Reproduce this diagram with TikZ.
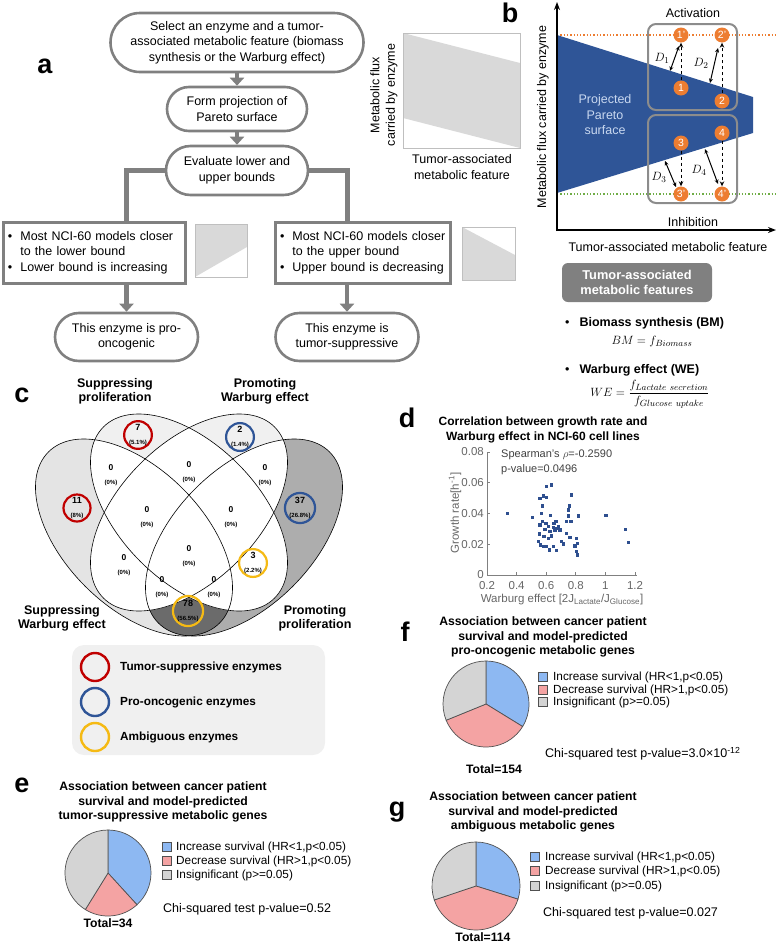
\documentclass[tikz,border=0pt]{standalone}
\usepackage{fontspec}
\setmainfont{Liberation Sans}
\setsansfont{Liberation Sans}
\usetikzlibrary{arrows.meta,shapes.misc}
\definecolor{agray}{HTML}{808080}
\definecolor{lgray}{HTML}{BFBFBF}
\definecolor{sgray}{HTML}{D9D9D9}
\definecolor{pblue}{HTML}{2F5597}
\definecolor{ptext}{HTML}{C9D8F0}
\definecolor{porange}{HTML}{ED7D31}
\definecolor{pgreen}{HTML}{70AD47}
\definecolor{boxgray}{HTML}{8C8C8C}
\definecolor{vred}{HTML}{C00000}
\definecolor{vblue}{HTML}{2F5597}
\definecolor{vyellow}{HTML}{F5BA14}
\definecolor{vA}{HTML}{F0F0F0}
\definecolor{vC}{HTML}{E4E4E4}
\definecolor{vD}{HTML}{ADADAD}
\definecolor{vCD}{HTML}{6B6B6B}
\definecolor{legbg}{HTML}{F0F0F0}
\definecolor{scat}{HTML}{2E4F8F}
\definecolor{axgray}{HTML}{808080}
\definecolor{pieblue}{HTML}{8DB8F2}
\definecolor{piepink}{HTML}{F4A3A3}
\definecolor{piegray}{HTML}{D4D4D4}
\definecolor{piedk}{HTML}{505050}
\newcommand\myfs[2]{\fontsize{#1}{#2}\selectfont}
\begin{document}
\begin{tikzpicture}[x=1pt,y=-1pt,font=\myfs{12.5}{15.5},
  flow/.style={draw=agray,line width=2.6pt,rounded rectangle,align=center,inner sep=0pt},
  farrow/.style={draw=agray,line width=4.5pt,-{Triangle[length=8pt,width=14pt]}},
  brk/.style={draw=agray,line width=5pt},
  rbox/.style={draw=agray,line width=3pt,rectangle,inner xsep=5pt,inner ysep=0pt,align=left},
  plab/.style={font=\myfs{27}{27}\bfseries,inner sep=0pt},
  pc/.style={circle,fill=porange,minimum size=15pt,inner sep=0pt,text=white,font=\myfs{10.5}{10.5}},
  gbox/.style={draw=boxgray,line width=2pt,rounded corners=8pt},
  eA/.style={rotate around={-45:(189,512.5)}},
  eB/.style={rotate around={45:(189,512.5)}},
  eC/.style={rotate around={-45:(134,537.5)}},
  eD/.style={rotate around={45:(244,537.5)}},
  vnum/.style={circle,line width=2.2pt,minimum size=27pt,inner sep=0pt,align=center},
  zl/.style={align=center,inner sep=0pt},
  vlab/.style={align=center,font=\myfs{12.5}{14}\bfseries,inner sep=0pt},
  legc/.style={circle,line width=2.4pt,minimum size=28pt,inner sep=0pt},
  legt/.style={anchor=west,font=\myfs{11.8}{14}\bfseries,inner sep=0pt},
  tick/.style={font=\myfs{11.5}{13},text=black!60,inner sep=1pt},
  ptitle/.style={align=center,font=\myfs{12.2}{14.5}\bfseries,inner sep=0pt},
  pleg/.style={anchor=west,font=\myfs{11.8}{14},inner sep=0pt},
  sq/.style={draw=piedk,line width=0.6pt},
  slice/.style={draw=piedk,line width=0.7pt}
]
\useasboundingbox (0,0) rectangle (778,943);

% ================= panel a =================
\node[plab] (la) at (45,66) {a};
\node[flow,minimum width=253pt,minimum height=59pt] (sel) at (237,42.5)
  {Select an enzyme and a tumor-\\associated metabolic feature (biomass\\synthesis or the Warburg effect)};
\node[flow,minimum width=140pt,minimum height=44pt] (proj) at (237,109)
  {Form projection of\\Pareto surface};
\node[flow,minimum width=142pt,minimum height=49pt] (eval) at (237,170.5)
  {Evaluate lower and\\upper bounds};
\draw[farrow] (sel.south) -- (proj.north);
\draw[farrow] (proj.south) -- (eval.north);

\node[rbox,minimum width=182pt,minimum height=61pt,text width=172pt] (lbox) at (94,252.5)
  {\begin{tabular}{@{}l@{\hspace{8pt}}l@{}}•&Most NCI-60 models closer\\&to the lower bound\\•&Lower bound is increasing\end{tabular}};
\node[rbox,minimum width=175pt,minimum height=61pt,text width=165pt] (rbox) at (362.5,252.5)
  {\begin{tabular}{@{}l@{\hspace{8pt}}l@{}}•&Most NCI-60 models closer\\&to the upper bound\\•&Upper bound is decreasing\end{tabular}};
\node[flow,minimum width=143pt,minimum height=48pt] (pro) at (126.5,337)
  {This enzyme is pro-\\oncogenic};
\node[flow,minimum width=143pt,minimum height=48pt] (sup) at (347,337)
  {This enzyme is\\tumor-suppressive};
\draw[brk] (eval.west) -| (pro.north |- lbox.north);
\draw[brk] (eval.east) -| (sup.north |- rbox.north);
\draw[farrow] (pro.north |- lbox.south) -- (pro.north);
\draw[farrow] (sup.north |- rbox.south) -- (sup.north);

% small sketches
\fill[sgray] (195,224) -- (247,224) -- (247,247) -- (195,277) -- cycle;
\draw[lgray,line width=0.9pt] (195,224) rectangle (247,277);
\fill[sgray] (462,227) -- (515,255) -- (515,280) -- (462,280) -- cycle;
\draw[lgray,line width=0.9pt] (462,227) rectangle (515,280);

\fill[sgray] (403,33) -- (520,63) -- (520,148) -- (403,118) -- cycle;
\draw[lgray,line width=0.9pt] (403,33) rectangle (520,148);
\node[rotate=90,align=center,inner sep=0pt] (sky) at (384,95) {Metabolic flux\\carried by enzyme};
\node[align=center,inner sep=0pt] (skx) at (462,167) {Tumor-associated\\metabolic feature};

% ================= panel b =================
\node[plab] (lb) at (510,13) {b};
\fill[pblue] (557,35) -- (753,97) -- (753,133) -- (557,193) -- cycle;
\draw[porange,dotted,line width=1.3pt] (557,35) -- (778,35);
\draw[pgreen,dotted,line width=1.3pt] (557,194) -- (778,194);
\draw[line width=1.6pt,-{Stealth[length=8pt,width=6pt]}] (557,231) -- (557,2);
\draw[line width=1.6pt,-{Stealth[length=8pt,width=6pt]}] (556,230) -- (776,230);
\node[align=center,text=ptext,inner sep=0pt] (pps) at (605,115) {Projected\\Pareto\\surface};
\draw[gbox] (648,24) rectangle (737,110);
\draw[gbox] (648,115) rectangle (737,203);
\node[inner sep=0pt] (act) at (693,13) {Activation};
\node[inner sep=0pt] (inh) at (693,222) {Inhibition};
\node[pc] (c1p) at (681,35) {1'};
\node[pc] (c2p) at (722,35) {2'};
\node[pc] (c1) at (681,88) {1};
\node[pc] (c2) at (722,101) {2};
\node[pc] (c3) at (681,143) {3};
\node[pc] (c4) at (722,133) {4};
\node[pc] (c3p) at (681,194) {3'};
\node[pc] (c4p) at (722,194) {4'};
\draw[dashed,line width=1pt,-{Stealth[length=5pt,width=4.5pt]}] (c1) -- (c1p);
\draw[dashed,line width=1pt,-{Stealth[length=5pt,width=4.5pt]}] (c2) -- (c2p);
\draw[dashed,line width=1pt,-{Stealth[length=5pt,width=4.5pt]}] (c3) -- (c3p);
\draw[dashed,line width=1pt,-{Stealth[length=5pt,width=4.5pt]}] (c4) -- (c4p);
\coordinate (d1a) at (670,71); \coordinate (d1b) at (679,46);
\coordinate (d2a) at (710,83); \coordinate (d2b) at (718,48);
\coordinate (d3a) at (665,161); \coordinate (d3b) at (676,187);
\coordinate (d4a) at (705,149); \coordinate (d4b) at (718,184);
\draw[line width=1pt,{Stealth[length=4.5pt,width=4pt]}-{Stealth[length=4.5pt,width=4pt]}] (d1a) -- (d1b);
\draw[line width=1pt,{Stealth[length=4.5pt,width=4pt]}-{Stealth[length=4.5pt,width=4pt]}] (d2a) -- (d2b);
\draw[line width=1pt,{Stealth[length=4.5pt,width=4pt]}-{Stealth[length=4.5pt,width=4pt]}] (d3a) -- (d3b);
\draw[line width=1pt,{Stealth[length=4.5pt,width=4pt]}-{Stealth[length=4.5pt,width=4pt]}] (d4a) -- (d4b);
\node[inner sep=0pt] (dl1) at (662,58) {$D_1$};
\node[inner sep=0pt] (dl2) at (701,63) {$D_2$};
\node[inner sep=0pt] (dl3) at (659,177) {$D_3$};
\node[inner sep=0pt] (dl4) at (699,170) {$D_4$};
\node[rotate=90,inner sep=0pt] (bya) at (543,117) {Metabolic flux carried by enzyme};
\node[inner sep=0pt] (bxa) at (668,247) {Tumor-associated metabolic feature};

\node[fill=agray,rounded corners=6pt,minimum width=150pt,minimum height=39pt,align=center,
  text=white,font=\myfs{12.8}{15.5}\bfseries,inner sep=0pt] (tamf) at (637,282.5) {Tumor-associated\\metabolic features};
\node[anchor=west,inner sep=0pt] (bm) at (565,323) {•\hspace{10pt}\textbf{Biomass synthesis (BM)}};
\node[inner sep=0pt] (bmf) at (652,341) {$BM = f_{Biomass}$};
\node[anchor=west,inner sep=0pt] (we) at (565,370) {•\hspace{10pt}\textbf{Warburg effect (WE)}};
\node[inner sep=0pt] (wef) at (650,394) {$WE = \displaystyle\frac{f_{Lactate\ secretion}}{f_{Glucose\ uptake}}$};

% ================= panel c =================
\node[plab] (lc) at (22,395) {c};
\fill[vC,eC] (134,537.5) ellipse [x radius=121pt,y radius=69pt];
\fill[vD,eD] (244,537.5) ellipse [x radius=121pt,y radius=69pt];
\begin{scope}
  \clip[eC] (134,537.5) ellipse [x radius=121pt,y radius=69pt];
  \fill[vCD,eD] (244,537.5) ellipse [x radius=121pt,y radius=69pt];
\end{scope}
\fill[vA,eA] (189,512.5) ellipse [x radius=121pt,y radius=69pt];
\fill[vA,eB] (189,512.5) ellipse [x radius=121pt,y radius=69pt];
\begin{scope}
  \clip[eA] (189,512.5) ellipse [x radius=121pt,y radius=69pt];
  \fill[white,eB] (189,512.5) ellipse [x radius=121pt,y radius=69pt];
  \fill[white,eC] (134,537.5) ellipse [x radius=121pt,y radius=69pt];
  \fill[white,eD] (244,537.5) ellipse [x radius=121pt,y radius=69pt];
\end{scope}
\begin{scope}
  \clip[eB] (189,512.5) ellipse [x radius=121pt,y radius=69pt];
  \fill[white,eC] (134,537.5) ellipse [x radius=121pt,y radius=69pt];
  \fill[white,eD] (244,537.5) ellipse [x radius=121pt,y radius=69pt];
\end{scope}
\draw[line width=0.6pt,eA] (189,512.5) ellipse [x radius=121pt,y radius=69pt];
\draw[line width=0.6pt,eB] (189,512.5) ellipse [x radius=121pt,y radius=69pt];
\draw[line width=0.6pt,eC] (134,537.5) ellipse [x radius=121pt,y radius=69pt];
\draw[line width=0.6pt,eD] (244,537.5) ellipse [x radius=121pt,y radius=69pt];

\node[vlab] (tsp) at (115,391) {Suppressing\\proliferation};
\node[vlab] (tpw) at (265,391) {Promoting\\Warburg effect};
\node[vlab] (tsw) at (62,618) {Suppressing\\Warburg effect};
\node[vlab] (tpp) at (315,618) {Promoting\\proliferation};

\node[vnum,draw=vred] (n7) at (138,435) {\myfs{9}{9}\bfseries 7\\[-1.5pt]\myfs{6}{6.5}\bfseries (5.1\%)};
\node[vnum,draw=vblue] (n2) at (240,437) {\myfs{9}{9}\bfseries 2\\[-1.5pt]\myfs{6}{6.5}\bfseries (1.4\%)};
\node[vnum,draw=vred] (n11) at (77,508) {\myfs{9}{9}\bfseries 11\\[-1.5pt]\myfs{6}{6.5}\bfseries (8\%)};
\node[vnum,draw=vblue] (n37) at (300,508) {\myfs{9}{9}\bfseries 37\\[-1.5pt]\myfs{6}{6.5}\bfseries (26.8\%)};
\node[vnum,draw=vyellow] (n3) at (253,563) {\myfs{9}{9}\bfseries 3\\[-1.5pt]\myfs{6}{6.5}\bfseries (2.2\%)};
\node[vnum,draw=vyellow] (n78) at (188,611) {\myfs{9}{9}\bfseries 78\\[-1.5pt]\myfs{6}{6.5}\bfseries (56.5\%)};
\foreach \px/\py/\nm in {111/475/z1,189/472/z2,265/475/z3,147/517/z4,231/517/z5,124/565/z6,189/556/z7,162/587/z8,214/587/z9}{
  \node[zl] (\nm) at (\px,\py) {\myfs{8.5}{8.5}\bfseries 0\\[-1.5pt]\myfs{6}{6.5}\bfseries (0\%)};
}

\fill[legbg,rounded corners=12pt] (72,645) rectangle (325,755);
\node[legc,draw=vred] (lg1) at (95,667) {};
\node[legc,draw=vblue] (lg2) at (95,702) {};
\node[legc,draw=vyellow] (lg3) at (95,737) {};
\node[legt] (lt1) at (120,667) {Tumor-suppressive enzymes};
\node[legt] (lt2) at (120,702) {Pro-oncogenic enzymes};
\node[legt] (lt3) at (120,737) {Ambiguous enzymes};

% ================= panel d =================
\node[plab] (ld) at (407,418) {d};
\node[align=center,font=\myfs{12}{15}\bfseries,inner sep=0pt] (dt) at (543,430) {Correlation between growth rate and\\Warburg effect in NCI-60 cell lines};
\draw[axgray,line width=0.7pt] (487,452) -- (487,575) -- (637,575);
\foreach \v/\yy in {0/575,0.02/544.25,0.04/513.5,0.06/482.75,0.08/452}{
  \draw[axgray,line width=0.7pt] (487,\yy) -- (490,\yy);
  \node[tick,anchor=east] at (485,\yy) {\v};
}
\foreach \v/\xx in {0.2/487,0.4/516.6,0.6/546.2,0.8/575.8,1/605.4,1.2/635}{
  \draw[axgray,line width=0.7pt] (\xx,575) -- (\xx,572);
  \node[tick,anchor=north] at (\xx,580.5) {\v};
}
\node[rotate=90,inner sep=0pt,text=black!60,font=\myfs{11.5}{13}] (dya) at (455,513) {Growth rate[h\textsuperscript{-1}]};
\node[inner sep=0pt,text=black!60,font=\myfs{11.5}{13}] (dxa) at (562,600) {Warburg effect [2J\textsubscript{Lactate}/J\textsubscript{Glucose}]};
\node[anchor=west,inner sep=0pt,font=\myfs{11}{13},text=black!75] (sp1) at (501,455) {Spearman's $\rho$=-0.2590};
\node[anchor=west,inner sep=0pt,font=\myfs{11}{13},text=black!75] (sp2) at (501,470) {p-value=0.0496};
\foreach \a/\b in {322/370,398/383,415/454,418/432,420/405,420/326,425/370,428/395,428/348,430/318,432/440,432/470,440/290,455/285,440/322,435/418,438/400,445/410,450/424,455/438,460/412,465/420,470/415,475/410,452/377,460/470,470/482,485/455,490/462,505/378,505/360,508/348,510/442,515/395,500/394,512/395,525/468,530/485,532/495,515/315,530/445,535/378,532/460,618/376,677/418,685/458,448/480,445/445,468/395,480/420,500/430,422/465,440/470,462/400}{
  \fill[scat] (400+\a/3-1.7,390+\b/3-1.7) rectangle ++(3.4,3.4);
}

% ================= panel e =================
\node[plab] (le) at (22,785) {e};
\node[ptitle] (et) at (163,802) {Association between cancer patient\\survival and model-predicted\\tumor-suppressive metabolic genes};
\begin{scope}[shift={(108,873)},y=1pt]
  \filldraw[fill=pieblue,slice] (0,0) -- (90:43) arc[start angle=90,end angle=-47.6,radius=43] -- cycle;
  \filldraw[fill=piepink,slice] (0,0) -- (-47.6:43) arc[start angle=-47.6,end angle=-121.8,radius=43] -- cycle;
  \filldraw[fill=piegray,slice] (0,0) -- (-121.8:43) arc[start angle=-121.8,end angle=-270,radius=43] -- cycle;
\end{scope}
\node[font=\myfs{12.2}{14}\bfseries,inner sep=0pt] (etot) at (108,923) {Total=34};
\filldraw[fill=pieblue,sq] (162,842.5) rectangle ++(9,9);
\filldraw[fill=piepink,sq] (162,856.5) rectangle ++(9,9);
\filldraw[fill=piegray,sq] (162,870.5) rectangle ++(9,9);
\node[pleg] (el1) at (176,847) {Increase survival (HR<1,p<0.05)};
\node[pleg] (el2) at (176,861) {Decrease survival (HR>1,p<0.05)};
\node[pleg] (el3) at (176,875) {Insignificant (p>=0.05)};
\node[pleg,font=\myfs{12.5}{14}] (echi) at (163,909) {Chi-squared test p-value=0.52};

% ================= panel f =================
\node[plab] (lf) at (405,632) {f};
\node[ptitle] (ft) at (543,637) {Association between cancer patient\\survival and model-predicted\\pro-oncogenic metabolic genes};
\begin{scope}[shift={(486,704)},y=1pt]
  \filldraw[fill=pieblue,slice] (0,0) -- (90:43) arc[start angle=90,end angle=-31.6,radius=43] -- cycle;
  \filldraw[fill=piepink,slice] (0,0) -- (-31.6:43) arc[start angle=-31.6,end angle=-157.8,radius=43] -- cycle;
  \filldraw[fill=piegray,slice] (0,0) -- (-157.8:43) arc[start angle=-157.8,end angle=-270,radius=43] -- cycle;
\end{scope}
\node[font=\myfs{12.2}{14}\bfseries,inner sep=0pt] (ftot) at (494,769) {Total=154};
\filldraw[fill=pieblue,sq] (538,672.5) rectangle ++(9,9);
\filldraw[fill=piepink,sq] (538,685.5) rectangle ++(9,9);
\filldraw[fill=piegray,sq] (538,697.5) rectangle ++(9,9);
\node[pleg] (fl1) at (553,677) {Increase survival (HR<1,p<0.05)};
\node[pleg] (fl2) at (553,690) {Decrease survival (HR>1,p<0.05)};
\node[pleg] (fl3) at (553,702) {Insignificant (p>=0.05)};
\node[pleg,font=\myfs{12.5}{14}] (fchi) at (545,754) {Chi-squared test p-value=3.0×10\textsuperscript{-12}};

% ================= panel g =================
\node[plab] (lg) at (397,812) {g};
\node[ptitle] (gt) at (533,812) {Association between cancer patient\\survival and model-predicted\\ambiguous metabolic genes};
\begin{scope}[shift={(476,886)},y=1pt]
  \filldraw[fill=pieblue,slice] (0,0) -- (90:44) arc[start angle=90,end angle=-17.4,radius=44] -- cycle;
  \filldraw[fill=piepink,slice] (0,0) -- (-17.4:44) arc[start angle=-17.4,end angle=-161.5,radius=44] -- cycle;
  \filldraw[fill=piegray,slice] (0,0) -- (-161.5:44) arc[start angle=-161.5,end angle=-270,radius=44] -- cycle;
\end{scope}
\node[font=\myfs{12.2}{14}\bfseries,inner sep=0pt] (gtot) at (483,937) {Total=114};
\filldraw[fill=pieblue,sq] (530,852.5) rectangle ++(9,9);
\filldraw[fill=piepink,sq] (530,866.5) rectangle ++(9,9);
\filldraw[fill=piegray,sq] (530,881.5) rectangle ++(9,9);
\node[pleg] (gl1) at (545,857) {Increase survival (HR<1,p<0.05)};
\node[pleg] (gl2) at (545,871) {Decrease survival (HR>1,p<0.05)};
\node[pleg] (gl3) at (545,886) {Insignificant (p>=0.05)};
\node[pleg,font=\myfs{12.5}{14}] (gchi) at (543,913) {Chi-squared test p-value=0.027};
\end{tikzpicture}
\end{document}
